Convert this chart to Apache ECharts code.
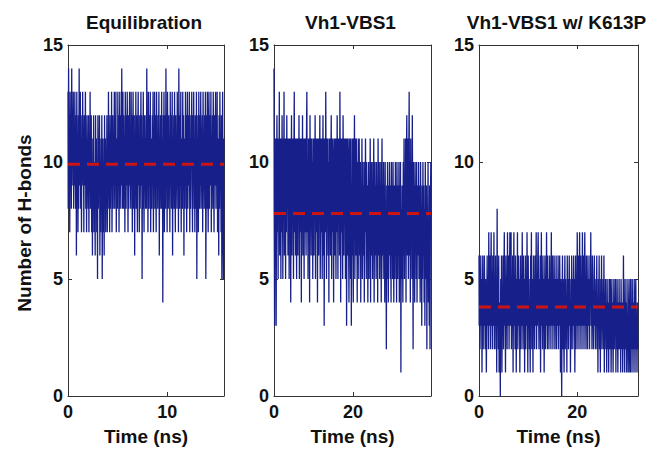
<!DOCTYPE html>
<html>
<head>
<meta charset="utf-8">
<script src="https://cdn.jsdelivr.net/npm/echarts@6/dist/echarts.min.js"></script>
<style>html,body{margin:0;padding:0;background:#fff}#c{width:657px;height:451px}</style>
</head>
<body>
<div id="c"></div>
<script>
// ---- data ----
const titles = ['Equilibration', 'Vh1-VBS1', 'Vh1-VBS1 w/ K613P'];
const yTicks = [0, 5, 10, 15];
const xMax = [15.7, 39.8, 32.4];          // simulation length (ns)
const xTickStep = [10, 20, 20];
const means = [9.9, 7.8, 3.8];             // average number of H-bonds

const hbEquil = [
  13,8,14,9,12,7,13,10,11,8,14,9,12,10,13,8,11,9,13,10,
  8,12,6,13,9,11,7,12,8,14,10,9,13,8,11,7,12,9,13,10,
  11,7,12,9,10,13,8,11,7,12,9,10,8,12,7,11,9,13,8,10,
  12,7,10,6,11,8,12,7,10,9,6,12,8,11,7,10,5,12,8,11,
  9,12,6,10,7,11,8,12,5,9,11,7,10,6,12,8,11,7,10,9,
  12,7,11,8,13,9,10,7,12,8,11,9,13,7,10,12,8,11,9,13,
  8,12,9,13,7,11,10,8,13,9,12,7,11,13,8,10,12,9,14,8,
  11,13,8,12,9,10,7,13,11,8,12,9,13,10,7,12,8,11,13,9,
  10,8,13,9,12,7,11,13,8,10,12,6,11,9,13,8,12,10,7,11,
  13,9,11,7,12,8,10,13,9,12,5,11,8,13,10,7,12,9,11,8,
  12,8,14,9,11,7,13,10,8,12,9,13,7,11,10,8,12,9,13,7,
  11,9,13,8,12,10,7,13,9,11,8,12,10,13,6,11,9,12,8,10,
  13,8,11,4,12,9,13,7,10,12,8,14,9,11,7,13,10,8,12,9,
  11,7,13,9,12,8,10,13,6,11,9,12,8,13,10,7,12,9,11,8,
  13,9,12,7,14,10,8,12,9,13,7,11,10,8,13,9,12,6,11,10,
  8,13,9,12,7,11,13,8,10,12,9,13,7,11,8,12,10,13,9,7,
  12,9,13,8,11,7,12,10,8,13,5,11,9,12,7,13,10,8,12,9,
  13,8,11,10,12,7,13,9,11,8,12,10,13,5,9,12,8,13,10,7,
  11,13,8,12,9,10,13,7,11,9,12,8,13,10,7,12,9,11,13,8,
  12,9,13,7,11,10,6,12,8,13,9,11,7,12,5,10,13,8,5,11
];
const hbVBS1 = [
  14,8,3,11,6,11,3,9,12,7,11,5,11,8,13,6,10,11,5,11,
  7,12,9,5,11,8,13,6,11,9,5,11,7,12,8,11,6,11,9,5,
  11,7,11,4,9,12,6,11,8,11,5,10,13,7,11,6,11,8,5,11,
  9,6,11,8,12,5,11,7,11,9,4,11,8,12,6,10,11,5,11,7,
  11,8,6,11,13,7,10,5,11,8,11,4,12,7,11,6,11,8,10,5,
  11,9,6,11,8,12,5,10,11,7,11,4,11,8,6,11,9,12,5,8,
  11,7,11,5,9,12,6,11,3,8,11,7,13,9,5,11,8,11,6,10,
  4,11,8,11,6,10,12,5,11,7,11,8,4,10,11,6,11,8,5,11,
  7,12,9,5,11,8,11,6,13,9,4,11,7,11,8,5,12,9,6,11,
  8,11,5,10,11,3,8,11,6,11,7,4,10,11,8,5,11,3,9,6,
  11,7,4,11,8,12,5,10,11,6,11,8,4,10,7,11,5,11,8,6,
  10,4,9,7,11,5,8,10,6,9,4,10,7,11,8,5,10,6,9,4,
  8,10,5,9,7,11,4,10,6,8,10,5,9,7,11,4,8,10,6,9,
  5,10,7,9,4,11,8,6,10,5,9,7,10,4,8,11,6,9,5,10,
  7,9,4,10,6,8,2,9,5,10,7,4,9,6,10,8,5,9,4,10,
  6,9,5,10,7,4,9,8,5,10,6,9,4,10,7,5,9,6,10,4,
  9,6,10,1,8,5,9,7,4,10,6,11,5,9,7,11,4,10,12,6,
  8,11,5,10,13,6,9,4,11,7,10,5,12,8,2,10,6,9,4,10,
  7,9,5,10,4,8,9,6,10,5,9,7,4,10,6,8,3,9,5,10,
  6,9,4,8,3,10,7,5,9,2,8,6,10,4,7,3,9,2,8,10
];
const hbK613P = [
  6,3,5,2,4,6,3,5,1,4,6,2,5,3,6,4,2,5,3,1,
  4,6,3,5,2,7,4,3,6,2,5,7,3,4,2,6,5,3,7,2,
  5,3,6,2,4,1,8,3,5,2,6,1,4,3,0,5,2,6,1,4,
  3,6,2,5,7,3,4,1,6,3,5,2,7,4,3,6,2,5,7,3,
  4,7,2,5,3,6,1,4,7,3,5,2,6,4,1,5,3,7,2,4,
  6,3,5,1,4,6,2,5,3,7,4,2,6,3,5,1,4,6,2,5,
  3,7,4,1,6,3,5,2,4,1,6,3,7,2,5,4,1,6,3,5,
  2,6,4,3,7,2,5,3,6,7,4,2,5,3,6,1,4,7,3,5,
  2,6,3,5,1,4,6,2,5,3,7,4,2,6,3,5,2,4,6,3,
  5,2,7,3,4,6,2,5,3,6,4,2,5,3,6,2,4,5,3,6,
  2,5,3,6,4,1,5,3,0,4,6,2,5,3,1,4,6,2,5,3,
  4,1,6,3,5,2,4,6,3,5,1,4,2,6,3,5,2,4,6,3,
  5,1,4,6,2,5,3,7,4,2,6,3,5,7,2,4,6,3,5,2,
  7,4,3,6,2,5,7,3,4,2,6,3,5,2,6,4,3,5,2,6,
  4,7,3,5,2,6,3,4,2,5,6,3,4,2,5,3,6,2,4,1,
  5,3,6,2,4,1,5,3,6,2,4,3,5,2,6,1,4,3,5,2,
  4,1,5,3,2,4,1,5,3,2,5,4,1,3,5,2,4,1,3,5,
  2,4,3,5,1,4,2,5,3,1,4,2,5,3,2,4,1,5,3,2,
  4,1,3,6,2,4,1,5,3,2,4,1,5,2,3,1,4,5,2,1,
  3,5,1,4,2,5,3,1,4,2,5,3,1,4,5,2,3,1,4,2
];
const hbSeries = [hbEquil, hbVBS1, hbK613P];

// ---- layout ----
const grids = [
  {left: 68, top: 45, width: 156, height: 351},
  {left: 274, top: 45, width: 157, height: 351},
  {left: 479, top: 45, width: 159, height: 351}
];
const FONT = 'Liberation Sans, Arial, Helvetica, sans-serif';
const BLUE = '#17208a';
const RED = '#cc1512';
const AX = '#333';

const xAxes = [], yAxes = [], series = [], graphics = [];
grids.forEach((g, i) => {
  xAxes.push({
    type: 'value', gridIndex: i, min: 0, max: xMax[i], interval: xTickStep[i],
    position: 'bottom',
    axisLine: {show: true, onZero: false, lineStyle: {color: AX, width: 1}},
    axisTick: {show: true, inside: true, length: 4, lineStyle: {color: AX}},
    axisLabel: {show: true, showMaxLabel: false, margin: 7, color: '#111', fontSize: 18, fontWeight: 'bold', fontFamily: FONT},
    splitLine: {show: false}
  });
  xAxes.push({
    type: 'value', gridIndex: i, min: 0, max: xMax[i], interval: xTickStep[i],
    position: 'top',
    axisLine: {show: true, onZero: false, lineStyle: {color: AX, width: 1}},
    axisTick: {show: true, inside: true, length: 4, lineStyle: {color: AX}},
    axisLabel: {show: false}, splitLine: {show: false}
  });
  yAxes.push({
    type: 'value', gridIndex: i, min: yTicks[0], max: yTicks[yTicks.length - 1], interval: yTicks[1] - yTicks[0],
    position: 'left',
    axisLine: {show: true, onZero: false, lineStyle: {color: AX, width: 1}},
    axisTick: {show: true, inside: true, length: 4, lineStyle: {color: AX}},
    axisLabel: {show: true, margin: 5, color: '#111', fontSize: 18, fontWeight: 'bold', fontFamily: FONT},
    splitLine: {show: false}
  });
  yAxes.push({
    type: 'value', gridIndex: i, min: yTicks[0], max: yTicks[yTicks.length - 1], interval: yTicks[1] - yTicks[0],
    position: 'right',
    axisLine: {show: true, onZero: false, lineStyle: {color: AX, width: 1}},
    axisTick: {show: true, inside: true, length: 4, lineStyle: {color: AX}},
    axisLabel: {show: false}, splitLine: {show: false}
  });
  const vals = hbSeries[i];
  const dt = xMax[i] / (vals.length - 1);
  series.push({
    type: 'line', xAxisIndex: 2 * i, yAxisIndex: 2 * i,
    data: vals.map((v, k) => [k * dt, v]),
    step: 'middle',
    showSymbol: false, symbol: 'none', sampling: 'none',
    lineStyle: {color: BLUE, width: 1.3}, z: 2
  });
  series.push({
    type: 'line', xAxisIndex: 2 * i, yAxisIndex: 2 * i,
    data: [[0, means[i]], [xMax[i], means[i]]],
    showSymbol: false, symbol: 'none',
    lineStyle: {color: RED, width: 3, type: [12, 7]}, z: 3
  });
  graphics.push({
    type: 'text', x: g.left + g.width / 2 - 2, y: 22,
    style: {text: titles[i], font: 'bold 19px ' + FONT, fill: '#111', textAlign: 'center', textVerticalAlign: 'middle'}
  });
  graphics.push({
    type: 'text', x: g.left + g.width / 2, y: 436,
    style: {text: 'Time (ns)', font: 'bold 19px ' + FONT, fill: '#111', textAlign: 'center', textVerticalAlign: 'middle'}
  });
});
graphics.push({
  type: 'text', x: 24, y: 223, rotation: Math.PI / 2,
  style: {text: 'Number of H-bonds', font: 'bold 19px ' + FONT, fill: '#111', textAlign: 'center', textVerticalAlign: 'middle'}
});

const chart = echarts.init(document.getElementById('c'), null, {renderer: 'svg'});
chart.setOption({
  animation: false,
  backgroundColor: '#fff',
  grid: grids.map(g => Object.assign({containLabel: false}, g)),
  xAxis: xAxes,
  yAxis: yAxes,
  series: series,
  graphic: graphics
});
</script>
</body>
</html>
